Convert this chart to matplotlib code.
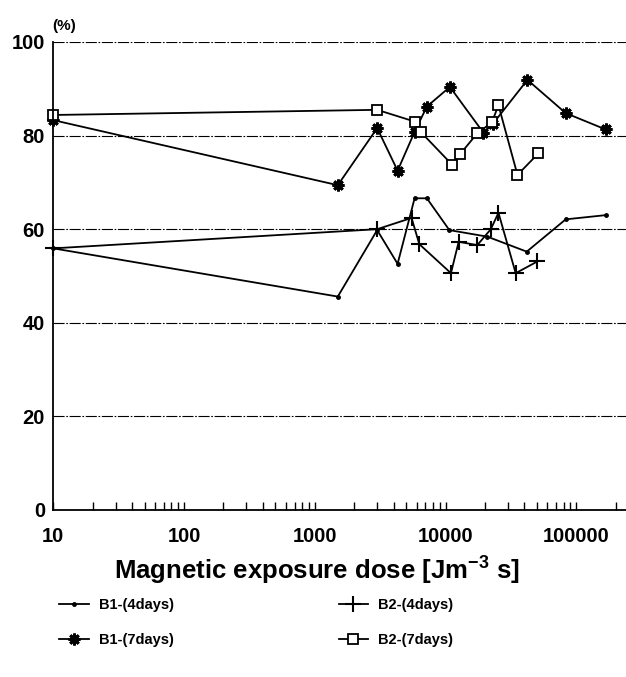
import numpy as np
import matplotlib
matplotlib.use("Agg")
import matplotlib.pyplot as plt
from matplotlib.ticker import LogLocator, FixedLocator, NullFormatter

# Data (dose in J m^-3 s, response in %)
b1_4_dose = [10, 1500, 3000, 4300, 5800, 7200, 10700, 20900, 41800, 83000, 168000]
b1_4_val = [55.9, 45.6, 59.8, 52.6, 66.6, 66.6, 59.8, 58.4, 55.2, 62.1, 63.0]

b1_7_dose = [10, 1500, 3000, 4300, 5800, 7200, 10800, 19500, 23000, 42300, 83000, 168000]
b1_7_val = [83.3, 69.4, 81.6, 72.5, 80.8, 86.2, 90.4, 80.6, 82.5, 91.9, 84.8, 81.3]

b2_4_dose = [10, 3000, 5500, 6300, 11000, 12600, 17500, 22200, 25400, 34400, 50400]
b2_4_val = [55.9, 60.0, 62.4, 56.8, 50.6, 57.3, 56.6, 60.0, 63.5, 50.6, 53.1]

b2_7_dose = [10, 3000, 5800, 6500, 11300, 12900, 17500, 22600, 25400, 35500, 51300]
b2_7_val = [84.4, 85.5, 83.0, 80.7, 73.7, 76.0, 80.5, 82.8, 86.5, 71.6, 76.2]

y_ticks = [0, 20, 40, 60, 80, 100]
x_ticks = [10, 100, 1000, 10000, 100000]
x_labels = ["10", "100", "1000", "10000", "100000"]

FONT = "Liberation Sans"
plt.rcParams["mathtext.fontset"] = "custom"
plt.rcParams["mathtext.rm"] = "Liberation Sans:bold"
plt.rcParams["mathtext.bf"] = "Liberation Sans:bold"
plt.rcParams["mathtext.default"] = "regular"

fig = plt.figure(figsize=(6.26, 6.77), dpi=100)
ax = fig.add_axes([0.0851, 0.2467, 0.9149, 0.6913])

line_kw = dict(color="black", linewidth=1.3, clip_on=False)
h1, = ax.plot(b1_4_dose, b1_4_val, marker="o", markersize=2.5, label="B1-(4days)", **line_kw)
h2, = ax.plot(b1_7_dose, b1_7_val, marker=(8, 2, 0), markersize=8.5, markeredgewidth=2,
              label="B1-(7days)", **line_kw)
h3, = ax.plot(b2_4_dose, b2_4_val, marker="+", markersize=11, markeredgewidth=1.5,
              label="B2-(4days)", **line_kw)
h4, = ax.plot(b2_7_dose, b2_7_val, marker="s", markersize=7, markerfacecolor="white",
              markeredgewidth=1.3, label="B2-(7days)", **line_kw)

ax.set_xscale("log")
ax.set_xlim(10, 2.4e5)
ax.set_ylim(0, 100)

# dash-dot horizontal grid
for y in y_ticks[1:]:
    ax.axhline(y, color="black", linewidth=0.8, linestyle=(0, (10, 1.5, 1.5, 1.5)), zorder=0)

ax.spines["top"].set_visible(False)
ax.spines["right"].set_visible(False)
ax.spines["left"].set_linewidth(1.3)
ax.spines["bottom"].set_linewidth(1.3)

ax.set_yticks(y_ticks)
ax.set_yticklabels([str(v) for v in y_ticks], fontfamily=FONT, fontweight="bold", fontsize=14.5)
ax.tick_params(axis="y", length=0, pad=6)

ax.xaxis.set_major_locator(FixedLocator(x_ticks))
ax.set_xticklabels(x_labels, fontfamily=FONT, fontweight="bold", fontsize=14.5)
ax.xaxis.set_minor_locator(LogLocator(base=10, subs=np.arange(2, 10)))
ax.xaxis.set_minor_formatter(NullFormatter())
ax.tick_params(axis="x", which="both", direction="in", length=6, width=1.0, pad=12)

ax.set_xlabel("Magnetic exposure dose [Jm$^{-3}$ s]", fontfamily=FONT,
              fontweight="bold", fontsize=18.5)
ax.xaxis.set_label_coords(0.46, -0.096)
fig.text(0.083, 0.955, "(%)", fontfamily=FONT, fontweight="bold", fontsize=11)

leg = fig.legend(handles=[h1, h2, h3, h4], ncol=2, loc="upper left",
                 bbox_to_anchor=(0.074, 0.136), frameon=False,
                 prop={"family": FONT, "weight": "bold", "size": 10.5},
                 handlelength=2.0, columnspacing=11.3, labelspacing=1.45, handletextpad=0.7)

fig.savefig("out.png", dpi=100)
